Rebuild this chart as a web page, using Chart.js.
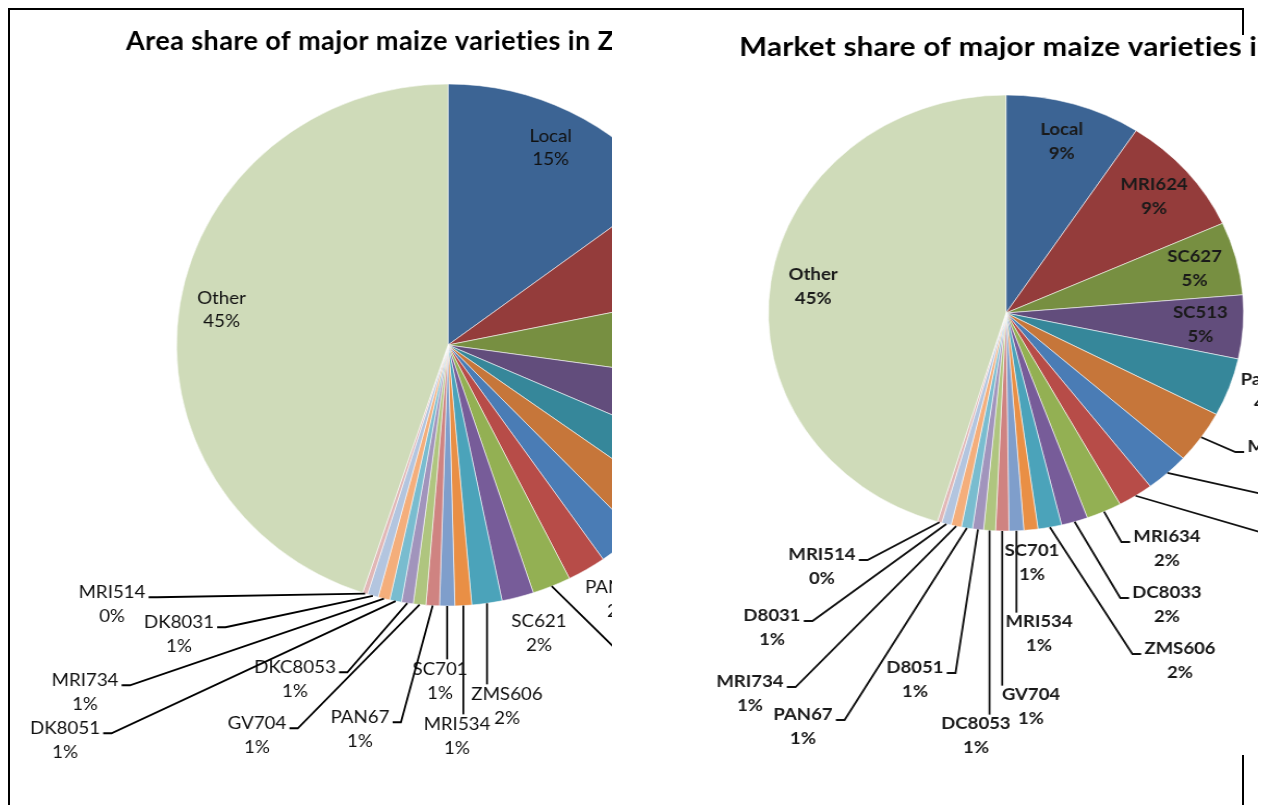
<!DOCTYPE html>
<html>
<head>
    <meta charset="utf-8">
    <title>Maize varieties share</title>
    <script src="https://cdn.jsdelivr.net/npm/chart.js@4.4.0/dist/chart.umd.min.js"></script>
    <style>
        body { margin: 0; background: #fff; width: 1265px; height: 805px; position: relative; overflow: hidden; }
        #frame { position: absolute; left: 8px; top: 8px; width: 1232px; height: 820px;
                 border-top: 2px solid #000; border-left: 2px solid #000; border-right: 2px solid #000; }
        #areaBox { position: absolute; left: 10px; top: 10px; width: 602px; height: 790px; overflow: hidden; }
        #marketBox { position: absolute; left: 700px; top: 35px; width: 558px; height: 720px; overflow: hidden; background: #fff; }
        #areaChart { transform: scaleX(1.04); transform-origin: 0 0; }
        #marketChart { transform: scaleX(1.09); transform-origin: 0 0; }
    </style>
</head>
<body>
    <div id="frame"></div>
    <div id="areaBox"><canvas id="areaChart" width="760" height="790"></canvas></div>
    <div id="marketBox"><canvas id="marketChart" width="560" height="720"></canvas></div>

    <script>
        // 면적 점유율 (왼쪽 차트)
        const areaVarieties = ['Local', 'MRI624', 'SC627', 'SC513', 'MRI634', 'DKC8033', 'MRI614', 'PAN413', 'SC719',
            'SC621', 'ZMS606', 'MRI534', 'SC701', 'PAN67', 'GV704', 'DKC8053', 'DK8051', 'MRI734', 'DK8031', 'MRI514', 'Other'];
        const areaShares = [14.8, 7.0, 5.5, 4.4, 3.3, 2.9, 2.5, 2.3, 2.3,
            1.9, 1.8, 1.0, 0.9, 0.8, 0.75, 0.7, 0.7, 0.7, 0.65, 0.3, 45.0];

        // 시장 점유율 (오른쪽 차트)
        const marketVarieties = ['Local', 'MRI624', 'SC627', 'SC513', 'Pan53', 'MRI614', 'SC621', 'SC719', 'MRI634',
            'DC8033', 'ZMS606', 'SC701', 'MRI534', 'GV704', 'DC8053', 'D8051', 'PAN67', 'MRI734', 'D8031', 'MRI514', 'Other'];
        const marketShares = [9.2, 9.0, 5.4, 4.7, 4.3, 3.9, 3.0, 2.4, 2.4,
            1.8, 1.6, 0.95, 1.0, 0.9, 0.8, 0.75, 0.75, 0.7, 0.65, 0.3, 45.2];

        const sliceColors = ['#3C6494', '#943C3B', '#778F41', '#624D7C', '#36879A', '#C6763A', '#4A7CB5', '#B74C48',
            '#93B053', '#775C99', '#4BA3BA', '#E98F45', '#7F9ECB', '#CF8381', '#AFC57F', '#A194BC', '#79BCCF',
            '#F4AE7B', '#B3C5DF', '#E1B7B6', '#CFDBB9'];

        // 라벨 위치: null 이면 조각 안쪽, 아니면 중심 기준 오프셋(화면 px)
        const areaLabelSpots = [null, null, null, null, [300, 130], [250, 185], [215, 225], [172, 254], [257, 360],
            [91, 288], [59, 361], [9, 391], [-8, 336], [-88, 384], [-191, 390], [-153, 334], [-383, 395],
            [-363, 347], [-269, 289], [-336, 259], null];
        const marketLabelSpots = [null, null, null, null, [261, 79], [275, 146], [314, 192], [314, 232], [161, 236],
            [161, 292], [174, 348], [26, 250], [33, 321], [25, 394], [-30, 423], [-91, 367], [-203, 414],
            [-256, 381], [-234, 315], [-184, 254], null];

        // 조각 라벨과 지시선을 그리는 플러그인
        const sliceLabels = {
            id: 'sliceLabels',
            afterDatasetsDraw(chart, args, opts) {
                const ctx = chart.ctx;
                const meta = chart.getDatasetMeta(0);
                const values = chart.data.datasets[0].data;
                const total = values.reduce((a, b) => a + b, 0);
                const half = opts.lineGap / 2;
                ctx.save();
                ctx.font = opts.font;
                ctx.textAlign = 'center';
                ctx.textBaseline = 'middle';
                meta.data.forEach((arc, i) => {
                    const name = chart.data.labels[i];
                    const pct = Math.round(values[i] / total * 100) + '%';
                    const mid = (arc.startAngle + arc.endAngle) / 2;
                    const r = arc.outerRadius;
                    const px = arc.x + Math.cos(mid) * r;
                    const py = arc.y + Math.sin(mid) * r;
                    const spot = opts.spots[i];
                    let lx, ly;
                    if (!spot) {
                        lx = arc.x + Math.cos(mid) * r * opts.inside;
                        ly = arc.y + Math.sin(mid) * r * opts.inside;
                    } else {
                        lx = arc.x + spot[0] / opts.stretch;
                        ly = arc.y + spot[1];
                        const bw = Math.max(ctx.measureText(name).width, ctx.measureText(pct).width);
                        const left = lx - bw / 2, right = lx + bw / 2;
                        const top = ly - half - opts.size * 0.55;
                        const attachY = ly - half + 5;
                        let pts = null;
                        if (px >= left - 3 && px <= right + 3) {
                            if (top - py > 20) pts = [[px, py], [px, top]];
                        } else {
                            const sx = px > right ? right + 3 : left - 3;
                            const tx = px > right ? sx + 8 : sx - 8;
                            if (Math.hypot(px - tx, py - attachY) > 28) pts = [[sx, attachY], [tx, attachY], [px, py]];
                        }
                        if (pts) {
                            ctx.strokeStyle = opts.lineColor;
                            ctx.lineWidth = opts.lineWidth;
                            ctx.beginPath();
                            pts.forEach((p, k) => k ? ctx.lineTo(p[0], p[1]) : ctx.moveTo(p[0], p[1]));
                            ctx.stroke();
                        }
                    }
                    ctx.fillStyle = opts.color;
                    ctx.fillText(name, lx, ly - half);
                    ctx.fillText(pct, lx, ly + half);
                });
                ctx.restore();
            }
        };

        // 왼쪽 정렬 제목
        const panelTitle = {
            id: 'panelTitle',
            afterDraw(chart, args, opts) {
                const ctx = chart.ctx;
                ctx.save();
                ctx.font = opts.font;
                if ('letterSpacing' in ctx) ctx.letterSpacing = opts.spacing;
                ctx.fillStyle = opts.color;
                ctx.textAlign = 'left';
                ctx.textBaseline = 'alphabetic';
                ctx.fillText(opts.text, chart.chartArea.left, opts.baseline);
                ctx.restore();
            }
        };

        function makePie(id, labels, data, radius, padding, title, labelOpts) {
            return new Chart(document.getElementById(id), {
                type: 'pie',
                data: {
                    labels: labels,
                    datasets: [{
                        data: data,
                        backgroundColor: sliceColors,
                        borderColor: 'rgba(255, 255, 255, 0.55)',
                        borderWidth: 1,
                        radius: radius
                    }]
                },
                options: {
                    responsive: false,
                    animation: false,
                    layout: { padding: padding },
                    plugins: {
                        legend: { display: false },
                        tooltip: { enabled: false },
                        panelTitle: title,
                        sliceLabels: labelOpts
                    }
                },
                plugins: [sliceLabels, panelTitle]
            });
        }

        makePie('areaChart', areaVarieties, areaShares, 261,
            { left: 111.5, right: 29.2, top: 74, bottom: 194 },
            { text: 'Area share of major maize varieties in Zambia', font: '700 26px Lato', spacing: '0.4px',
              color: '#000', baseline: 39.5 },
            { spots: areaLabelSpots, stretch: 1.04, inside: 0.845, font: '18px Lato', size: 18, lineGap: 23.5,
              color: '#111', lineColor: '#000', lineWidth: 1.8 });

        makePie('marketChart', marketVarieties, marketShares, 218,
            { left: 36, right: 34.6, top: 60, bottom: 224 },
            { text: 'Market share of major maize varieties in Zambia', font: '700 27px Lato', spacing: '0.3px',
              color: '#000', baseline: 21 },
            { spots: marketLabelSpots, stretch: 1.09, inside: 0.82, font: '700 17px Lato', size: 17, lineGap: 24,
              color: '#1a1a1a', lineColor: '#111', lineWidth: 1.8 });
    </script>
</body>
</html>
